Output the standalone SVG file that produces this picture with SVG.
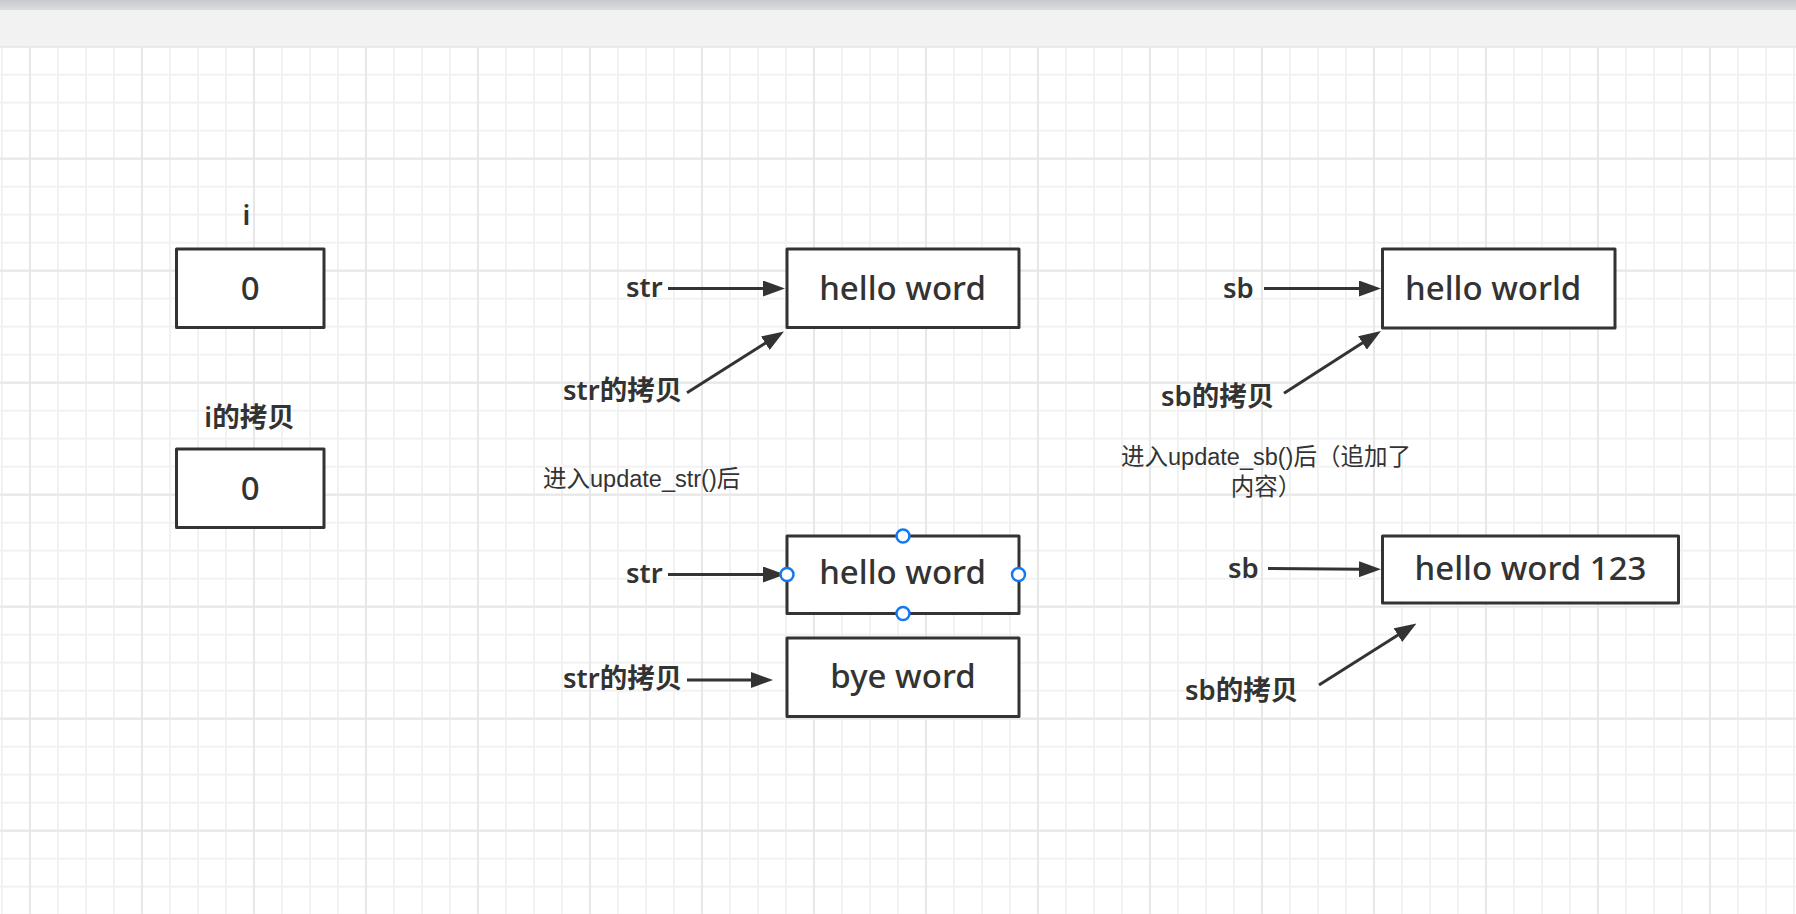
<svg xmlns="http://www.w3.org/2000/svg" width="1796" height="914" viewBox="0 0 1796 914">
<style>
.box{fill:#fff;stroke:#333;stroke-width:3;stroke-linejoin:round}
.val{font-family:"Noto Sans","Noto Sans CJK SC",sans-serif;font-weight:500;font-size:33px;fill:#333}
.mid{text-anchor:middle}
.lbl{font-family:"Noto Sans","Noto Sans CJK SC",sans-serif;font-weight:600;font-size:27.5px;fill:#333}
.note{font-family:"Liberation Sans","Noto Sans CJK SC",sans-serif;font-size:23.5px;fill:#333}
.edge{fill:none;stroke:#333;stroke-width:3;marker-end:url(#arr)}
.handle{fill:#fff;stroke:#1479f0;stroke-width:2.5}
</style>
<defs>
<linearGradient id="topbar" x1="0" y1="0" x2="0" y2="1">
<stop offset="0" stop-color="#c8c9ce"/>
<stop offset="1" stop-color="#dcdde0"/>
</linearGradient>
<pattern id="minor" width="28" height="28" x="16" y="32.7" patternUnits="userSpaceOnUse">
<rect x="13" y="0" width="2" height="28" fill="#f2f2f2"/>
<rect x="0" y="13" width="28" height="2" fill="#f2f2f2"/>
</pattern>
<pattern id="major" width="112" height="112" x="86" y="102.7" patternUnits="userSpaceOnUse">
<rect x="55" y="0" width="2" height="112" fill="#e7e7e7"/>
<rect x="0" y="55" width="112" height="2" fill="#e7e7e7"/>
</pattern>
<marker id="arr" viewBox="0 0 22 16" refX="3" refY="8" markerWidth="22" markerHeight="16" markerUnits="userSpaceOnUse" orient="auto">
<path d="M0,0 L22,8 L0,16 z" fill="#333"/>
</marker>
</defs>
<g id="background">
<rect x="0" y="0" width="1796" height="914" fill="#fff"/>
<rect x="0" y="46" width="1796" height="868" fill="url(#minor)"/>
<rect x="0" y="46" width="1796" height="868" fill="url(#major)"/>
<rect x="0" y="10" width="1796" height="36" fill="#f2f2f2"/>
<rect x="0" y="0" width="1796" height="10" fill="url(#topbar)"/>
</g>
<g id="connectors">
<path class="edge" d="M668,288.5 L766,288.5"/>
<path class="edge" d="M687,392.7 L767.9,341.6"/>
<path class="edge" d="M1264,288.5 L1362,288.5"/>
<path class="edge" d="M1284,393.3 L1365,341.3"/>
<path class="edge" d="M668,574.5 L766,574.5"/>
<path class="edge" d="M687,680 L754,680"/>
<path class="edge" d="M1268,568.5 L1362,569.2"/>
<path class="edge" d="M1319,685 L1400.4,633.6"/>
</g>
<g id="label-i"><text class="lbl mid" x="246.5" y="225">i</text></g>
<g id="node-i"><rect class="box" x="176.5" y="249" width="147.5" height="78.5"/><text class="val mid" x="250.3" y="300">0</text></g>
<g id="label-i-copy"><text class="lbl mid" x="249.5" y="427">i的拷贝</text></g>
<g id="node-i-copy"><rect class="box" x="176.5" y="449" width="147.5" height="78.5"/><text class="val mid" x="250.3" y="500">0</text></g>
<g id="label-str"><text class="lbl" x="626" y="297">str</text></g>
<g id="label-str-copy"><text class="lbl" x="563" y="400">str的拷贝</text></g>
<g id="node-str"><rect class="box" x="787" y="249" width="232" height="78.5"/><text class="val mid" x="902.5" y="300">hello word</text></g>
<g id="label-sb"><text class="lbl" x="1223" y="298">sb</text></g>
<g id="label-sb-copy"><text class="lbl" x="1161" y="406">sb的拷贝</text></g>
<g id="node-sb"><rect class="box" x="1382.5" y="249" width="232.5" height="79"/><text class="val" x="1405" y="300">hello world</text></g>
<g id="note-str"><text class="note" x="543" y="487">进入update_str()后</text></g>
<g id="note-sb"><text class="note mid" x="1266" y="465">进入update_sb()后（追加了</text><text class="note mid" x="1266" y="494.5">内容）</text></g>
<g id="label-str-2"><text class="lbl" x="626" y="583">str</text></g>
<g id="node-str-2"><rect class="box" x="787" y="536" width="232" height="77.5"/><text class="val mid" x="902.5" y="584">hello word</text>
<circle class="handle" cx="903" cy="536" r="6.5"/><circle class="handle" cx="787" cy="574.5" r="6.5"/><circle class="handle" cx="1018.5" cy="574.5" r="6.5"/><circle class="handle" cx="903" cy="613.5" r="6.5"/></g>
<g id="label-str-copy-2"><text class="lbl" x="563" y="687.5">str的拷贝</text></g>
<g id="node-bye"><rect class="box" x="787" y="638" width="232" height="78.5"/><text class="val mid" x="903" y="688">bye word</text></g>
<g id="label-sb-2"><text class="lbl" x="1228" y="578">sb</text></g>
<g id="node-sb-2"><rect class="box" x="1382.5" y="536" width="296" height="67"/><text class="val mid" x="1530.5" y="580">hello word 123</text></g>
<g id="label-sb-copy-2"><text class="lbl" x="1185" y="700">sb的拷贝</text></g>
</svg>
